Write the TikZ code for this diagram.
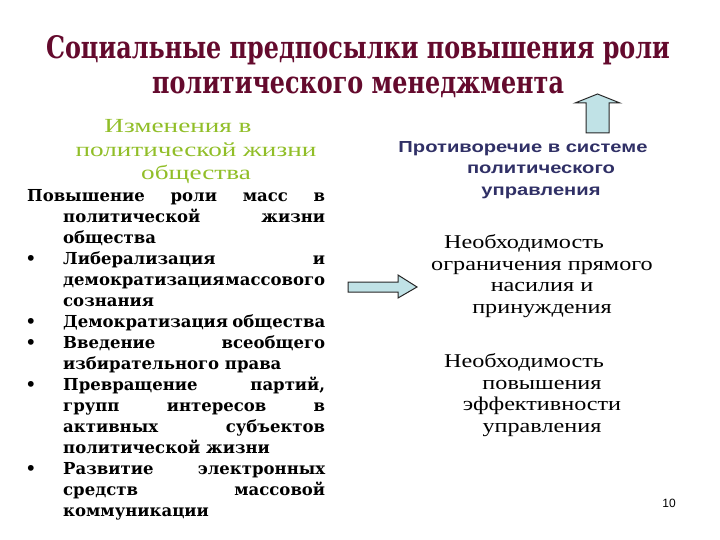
\documentclass[tikz,border=0pt]{standalone}
\usepackage{fontspec}
\setmainfont{Liberation Serif}
\setsansfont{Liberation Sans}
\newfontfamily\wideserif[FakeStretch=1.24]{Liberation Serif}
\newfontfamily\greenserif[FakeStretch=1.36]{Liberation Serif}
\newfontfamily\widesans[FakeStretch=1.26]{Liberation Sans}
\newfontfamily\listserif{DejaVu Serif}
\newfontfamily\titleserif[FakeStretch=0.77]{DejaVu Serif}
\usetikzlibrary{positioning}
\definecolor{titlered}{RGB}{100,10,45}
\definecolor{headgreen}{RGB}{145,190,40}
\definecolor{headblue}{RGB}{48,48,102}
\definecolor{arrowfill}{RGB}{192,226,230}
\newcommand{\BulletItem}[1]{\par\hangindent=36pt\hangafter=0\noindent\llap{\textbullet\hspace{27pt}}#1}
\tikzset{
  title/.style={align=center, text=titlered, font=\titleserif\fontsize{31}{35}\selectfont\bfseries},
  greenhead/.style={align=center, text=headgreen, font=\greenserif\fontsize{20}{23.5}\selectfont},
  bluehead/.style={align=center, text=headblue, font=\widesans\fontsize{16}{21.5}\selectfont\bfseries},
  need/.style={align=center, font=\wideserif\fontsize{19.5}{21.5}\selectfont},
  blockarrow/.style={fill=arrowfill, draw=black!85, line width=1pt, line join=miter}
}
\begin{document}
\begin{tikzpicture}[x=1pt, y=-1pt]
  \useasboundingbox (0,0) rectangle (720,540);
  % headings
  \node[title] (title) at (358,67) {Социальные предпосылки повышения роли\\политического менеджмента};
  \node[greenhead] (changes) at (196,152) {Изменения в\hspace*{36pt}\\политической жизни\\общества};
  \node[bluehead] (conflict) at (541,170) {Противоречие в системе\hspace*{36pt}\\политического\\управления};
  % left list
  \node[anchor=north west, inner sep=0pt, text width=298pt, align=justify,
        font=\listserif\fontsize{16.5}{21}\selectfont\bfseries] (list) at (27,189) {%
    \noindent\hangindent=36pt\hangafter=1 Повышение роли масс в политической жизни общества
    \BulletItem{Либерализация и\linebreak\mbox{демократизация\hspace{1pt}массового}\linebreak сознания}
    \BulletItem{Демократизация общества}
    \BulletItem{Введение всеобщего избирательного права}
    \BulletItem{Превращение партий, групп интересов в активных субъектов политической жизни}
    \BulletItem{Развитие электронных средств массовой коммуникации}\par};
  % right column
  \node[need] (limit) at (542,276) {Необходимость\hspace*{36pt}\\ограничения прямого\\насилия и\\принуждения};
  \node[need] (efficiency) at (542,395) {Необходимость\hspace*{36pt}\\повышения\\эффективности\\управления};
  % block arrows
  \filldraw[blockarrow] (348,282) -- (398,282) -- (398,275) -- (417,287) -- (398,298)
    -- (398,292) -- (348,292) -- cycle;
  \filldraw[blockarrow] (586,133) -- (586,103) -- (575,103) -- (597.5,94) -- (620,103)
    -- (609,103) -- (609,133) -- cycle;
  \node[font=\sffamily\fontsize{12}{12}\selectfont] (page) at (669,503) {10};
\end{tikzpicture}
\end{document}
